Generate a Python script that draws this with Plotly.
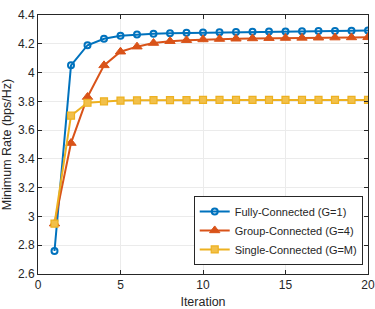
import plotly.graph_objects as go

iterations = list(range(1, 21))
fully = [2.76, 4.05, 4.19, 4.235, 4.255, 4.265, 4.27, 4.274, 4.276, 4.278,
         4.280, 4.282, 4.283, 4.285, 4.286, 4.287, 4.288, 4.289, 4.290, 4.292]
group = [2.95, 3.51, 3.83, 4.05, 4.145, 4.18, 4.205, 4.218, 4.225, 4.23,
         4.233, 4.235, 4.237, 4.239, 4.240, 4.241, 4.242, 4.243, 4.244, 4.245]
single = [2.95, 3.70, 3.79, 3.80, 3.805, 3.807, 3.808, 3.809, 3.809, 3.81,
          3.81, 3.81, 3.81, 3.81, 3.81, 3.81, 3.81, 3.81, 3.81, 3.81]
names = ["Fully-Connected (G=1)", "Group-Connected (G=4)", "Single-Connected (G=M)"]
x_ticks = [0, 5, 10, 15, 20]
y_ticks = [2.6, 2.8, 3.0, 3.2, 3.4, 3.6, 3.8, 4.0, 4.2, 4.4]
y_tick_text = ["2.6", "2.8", "3", "3.2", "3.4", "3.6", "3.8", "4", "4.2", "4.4"]

fig = go.Figure()
fig.add_trace(go.Scatter(x=iterations, y=fully, name=names[0], mode="lines+markers",
                         line=dict(color="#0072BD", width=2),
                         marker=dict(symbol="circle-open", size=6, color="#0072BD",
                                     line=dict(width=2, color="#0072BD"))))
fig.add_trace(go.Scatter(x=iterations, y=group, name=names[1], mode="lines+markers",
                         line=dict(color="#D95319", width=2),
                         marker=dict(symbol="triangle-up", size=9, color="#D95319",
                                     line=dict(width=1, color="#D95319"))))
fig.add_trace(go.Scatter(x=iterations, y=single, name=names[2], mode="lines+markers",
                         line=dict(color="#EDB120", width=2),
                         marker=dict(symbol="square", size=7, color="#F2C04A",
                                     line=dict(width=1.2, color="#EDB120"))))

axis_common = dict(showline=True, linecolor="#262626", linewidth=1, mirror="ticks",
                   ticks="inside", ticklen=4, tickcolor="#262626",
                   showgrid=True, gridcolor="#EBEBEB", gridwidth=1, zeroline=False,
                   automargin=False, ticklabeloverflow="allow",
                   tickfont=dict(family="Liberation Sans, Arial", size=12, color="#262626"))

fig.update_layout(
    width=375, height=309,
    margin=dict(l=38, r=7, t=15, b=35),
    paper_bgcolor="white", plot_bgcolor="white",
    font=dict(family="Liberation Sans, Arial", size=11, color="#262626"),
    xaxis=dict(range=[0, 20], tickvals=x_ticks,
               title=dict(text="Iteration", font=dict(size=12.5), standoff=6), **axis_common),
    yaxis=dict(range=[2.6, 4.4], tickvals=y_ticks, ticktext=y_tick_text,
               title=dict(text="Minimum Rate (bps/Hz)", font=dict(size=12.5), standoff=4),
               **axis_common),
    legend=dict(x=0.984, y=0.035, xanchor="right", yanchor="bottom",
                bgcolor="white", bordercolor="#262626", borderwidth=1,
                font=dict(size=11), tracegroupgap=0, itemwidth=30),
    showlegend=True,
)

fig.write_html("out.html", config={"displayModeBar": False},
               post_script="document.body.style.margin='0';document.body.style.overflow='hidden';")
